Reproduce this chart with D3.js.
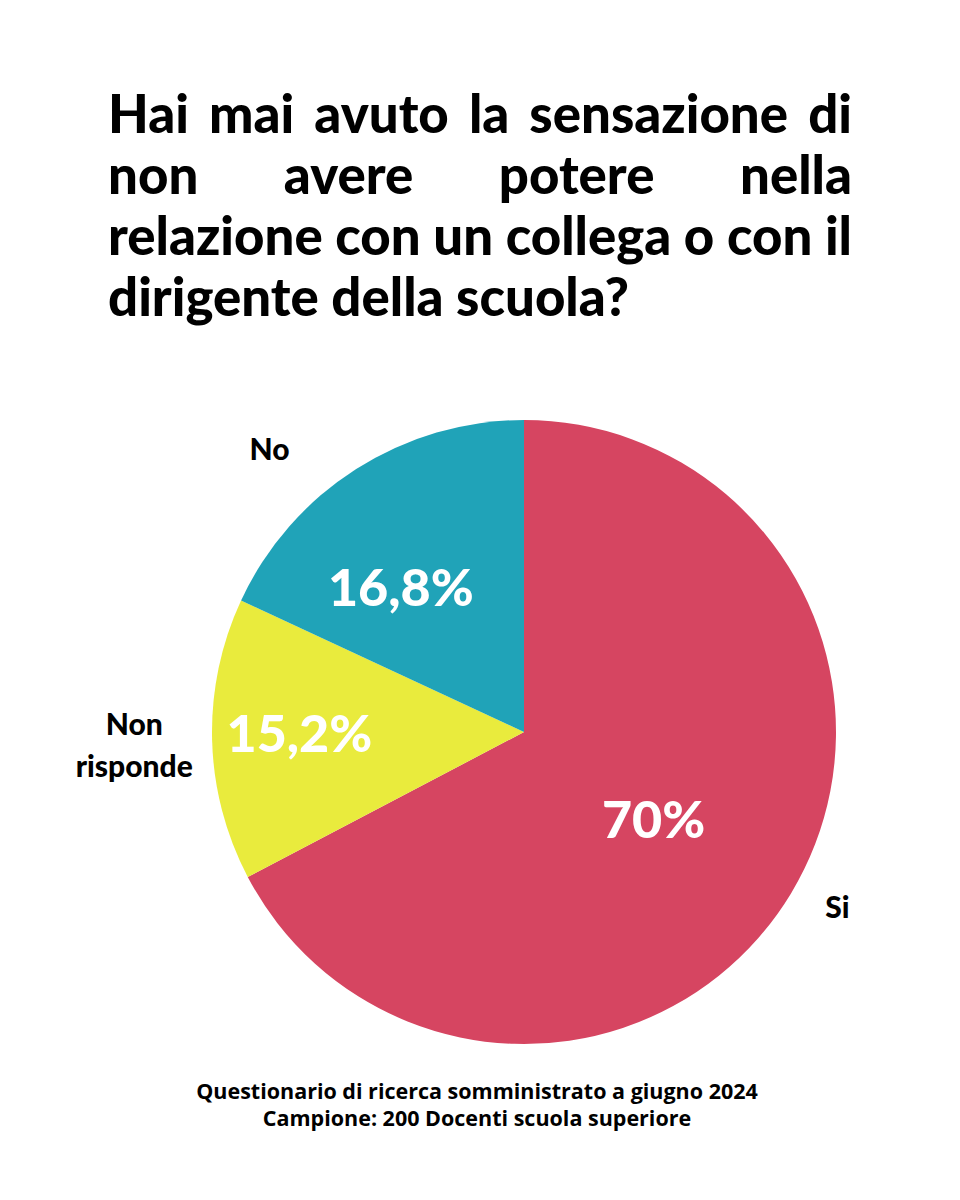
<!DOCTYPE html>
<html>
<head>
<meta charset="utf-8">
<script src="https://cdn.jsdelivr.net/npm/d3@7"></script>
<style>
body { margin: 0; background: #fff; }
text { font-family: Lato, "Open Sans", "DejaVu Sans", sans-serif; }
text.footer { font-family: "Open Sans", Lato, sans-serif; }
</style>
</head>
<body>
<div id="chart"></div>
<script>
// Chart content
var titleLines = [
    "Hai mai avuto la sensazione di",
    "non avere potere nella",
    "relazione con un collega o con il",
    "dirigente della scuola?"
];
var categories = ["Si", "Non risponde", "No"];
var sliceValues = [70, 15.2, 18.8];          // arc sizes as drawn in the picture
var percentLabels = ["70%", "15,2%", "16,8%"]; // labels as printed
var colors = ["#d64561", "#e9eb3d", "#20a3b8"];
var footerLines = [
    "Questionario di ricerca somministrato a giugno 2024",
    "Campione: 200 Docenti scuola superiore"
];

// Label placement (radius factor and angle nudge in degrees)
var labelPos = {
    "Si":           { r: 0.50, nudge: 2.7,  outR: 1.15, outNudge: -2 },
    "Non risponde": { r: 0.72, nudge: 1.1,  outR: 1.25, outNudge: -0.5 },
    "No":           { r: 0.61, nudge: -7.8, outR: 1.22, outNudge: -9.4 }
};

var width = 960, height = 1200;
var cx = 524, cy = 732, radius = 312;

var svg = d3.select("#chart")
    .append("svg")
    .attr("width", width)
    .attr("height", height);

// Title, justified like the original
var titleLeft = 108, titleRight = 852, titleBase = 133, titleLineH = 61;
var titleWeight = 900;

function measure(str, size, weight, cls) {
    var t = svg.append("text")
        .attr("class", cls || null)
        .attr("font-size", size)
        .attr("font-weight", weight || titleWeight)
        .text(str);
    var w = t.node().getComputedTextLength();
    t.remove();
    return w;
}

// pick a font size so the last line is about as wide as in the reference
var fs = 50 * 524 / measure(titleLines[titleLines.length - 1], 50);
titleLines.slice(0, -1).forEach(function(line) {
    var w = measure(line, fs);
    if (w > titleRight - titleLeft) fs = fs * (titleRight - titleLeft) / w;
});
var spaceW = measure("a a", fs) - measure("aa", fs);

titleLines.forEach(function(line, i) {
    var words = line.split(" ");
    var widths = words.map(function(w) { return measure(w, fs); });
    var total = d3.sum(widths);
    var isLast = i === titleLines.length - 1;
    var gap = isLast ? spaceW : (titleRight - titleLeft - total) / (words.length - 1);
    var x = titleLeft;
    var t = svg.append("text")
        .attr("y", titleBase + i * titleLineH)
        .attr("font-size", fs)
        .attr("font-weight", titleWeight)
        .attr("fill", "#000");
    words.forEach(function(w, j) {
        t.append("tspan").attr("x", x).text(w);
        x += widths[j] + gap;
    });
});

// Pie
var data = categories.map(function(c, i) {
    return { name: c, value: sliceValues[i], label: percentLabels[i], color: colors[i] };
});

var pie = d3.pie().sort(null).value(function(d) { return d.value; });
var arc = d3.arc().innerRadius(0).outerRadius(radius);
var arcs = pie(data);

var g = svg.append("g").attr("transform", "translate(" + cx + "," + cy + ")");

g.selectAll("path.slice")
    .data(arcs)
    .enter().append("path")
    .attr("class", "slice")
    .attr("d", arc)
    .attr("fill", function(d) { return d.data.color; });

function labelPoint(d, rf, nudge) {
    var a = (d.startAngle + d.endAngle) / 2 + nudge * Math.PI / 180;
    return d3.pointRadial(a, rf * radius);
}

// percentages inside the slices
var pctSize = 52;
g.selectAll("text.pct")
    .data(arcs)
    .enter().append("text")
    .attr("class", "pct")
    .attr("transform", function(d) {
        var p = labelPoint(d, labelPos[d.data.name].r, labelPos[d.data.name].nudge);
        return "translate(" + p[0] + "," + p[1] + ")";
    })
    .attr("text-anchor", "middle")
    .attr("dy", "0.36em")
    .attr("font-size", pctSize)
    .attr("font-weight", 900)
    .attr("fill", "#fff")
    .text(function(d) { return d.data.label; });

// category names outside
var catSize = 30, catLineH = 42;
g.selectAll("text.cat")
    .data(arcs)
    .enter().append("text")
    .attr("class", "cat")
    .attr("transform", function(d) {
        var p = labelPoint(d, labelPos[d.data.name].outR, labelPos[d.data.name].outNudge);
        return "translate(" + p[0] + "," + p[1] + ")";
    })
    .attr("text-anchor", "middle")
    .attr("font-size", catSize)
    .attr("font-weight", 900)
    .attr("fill", "#000")
    .each(function(d) {
        var lines = d.data.name.split(" ");
        var el = d3.select(this);
        lines.forEach(function(l, i) {
            el.append("tspan")
                .attr("x", 0)
                .attr("y", catSize * 0.36 + (i - (lines.length - 1) / 2) * catLineH)
                .text(l);
        });
    });

// footer, sized so the first line spans about 562px as in the reference
var footSize = 19 * 562 / measure(footerLines[0], 19, 700, "footer");
svg.selectAll("text.footer")
    .data(footerLines)
    .enter().append("text")
    .attr("class", "footer")
    .attr("x", 477)
    .attr("y", function(d, i) { return 1099 + i * 27; })
    .attr("text-anchor", "middle")
    .attr("font-size", footSize)
    .attr("font-weight", 700)
    .attr("fill", "#000")
    .text(function(d) { return d; });
</script>
</body>
</html>
